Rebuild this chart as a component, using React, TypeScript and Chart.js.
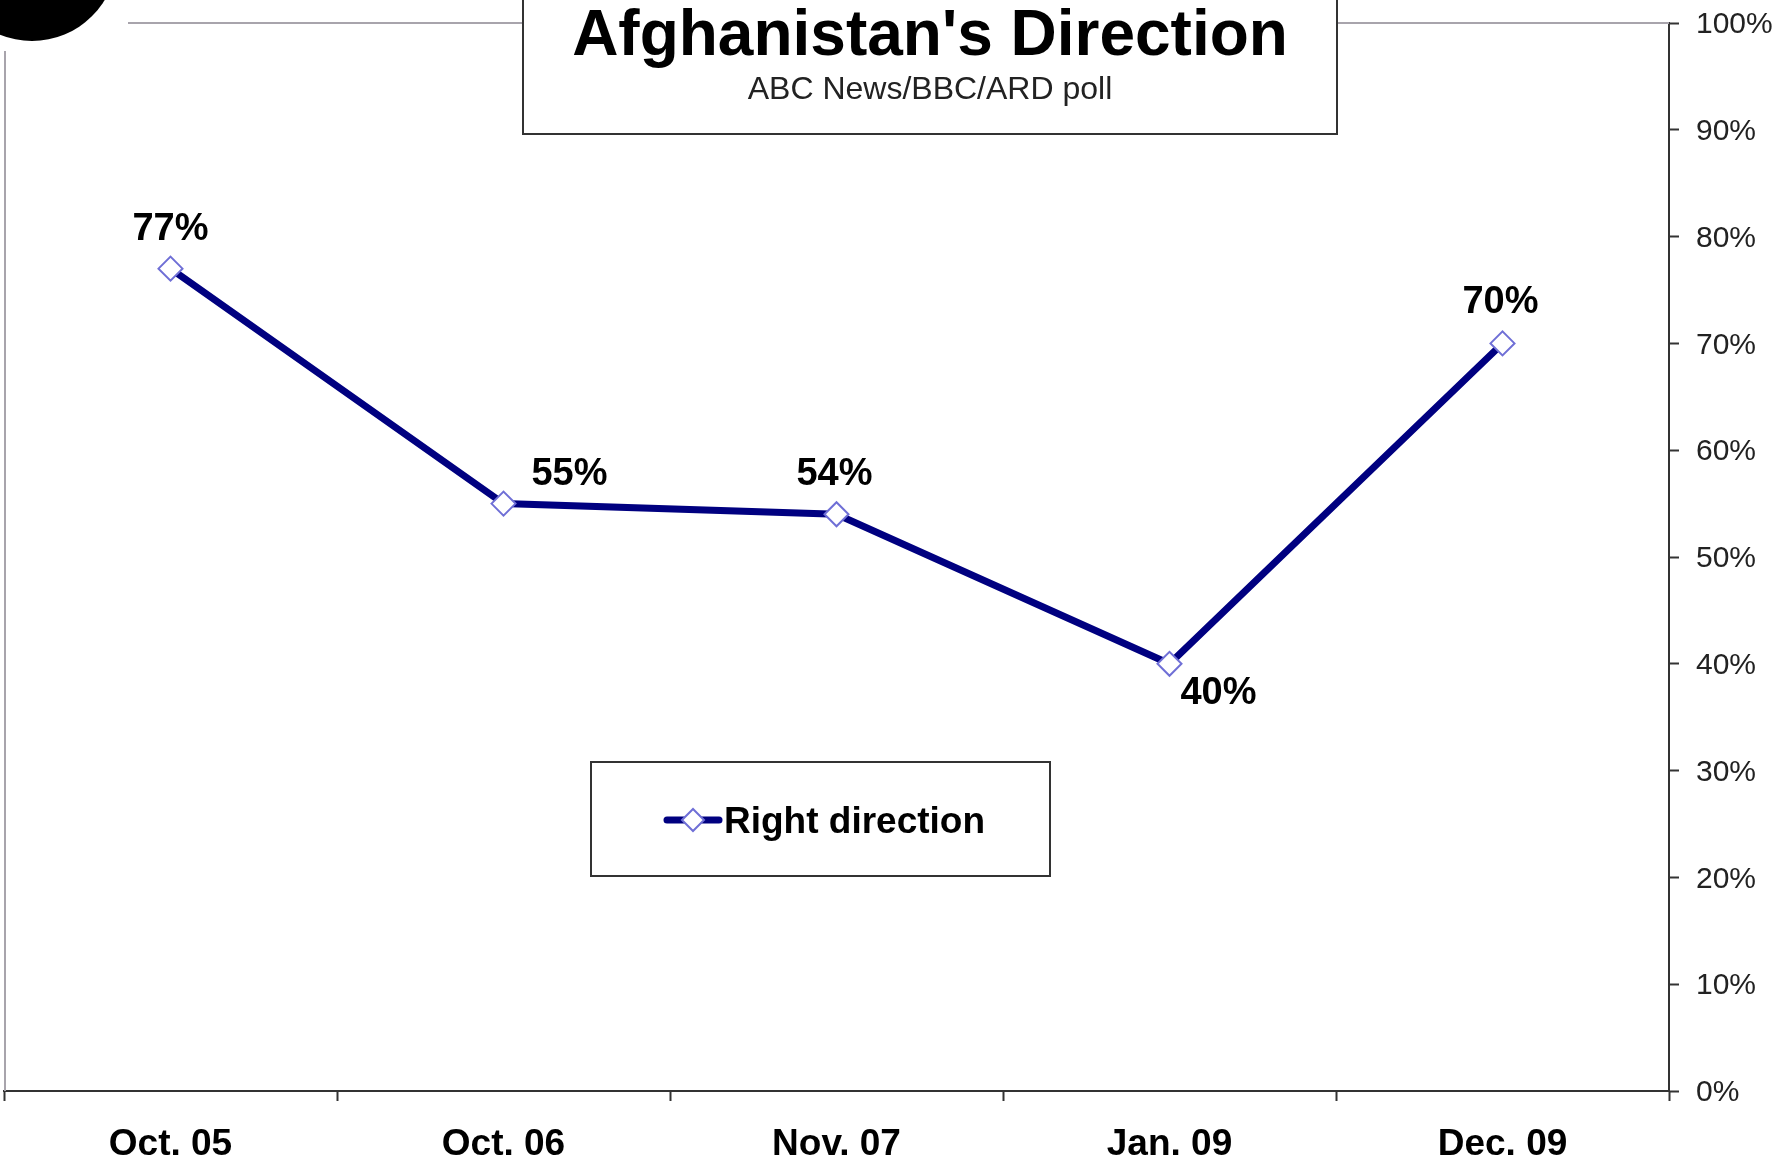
import React, { useEffect, useRef } from "react";
import { Chart, registerables } from "chart.js";

Chart.register(...registerables);

// ---- Data ----
const categories = ["Oct. 05", "Oct. 06", "Nov. 07", "Jan. 09", "Dec. 09"];
const rightDirection = [77, 55, 54, 40, 70];
const seriesName = "Right direction";
const titleText = "Afghanistan's Direction";
const subtitleText = "ABC News/BBC/ARD poll";
const yMin = 0;
const yMax = 100;
const yStep = 10;

// label offsets (dx, dy) from each point to the centre of its value label
const labelOffsets: [number, number][] = [
  [0, -43],
  [66, -33],
  [-2, -43],
  [49, 26],
  [-2, -44],
];

const FONT = "'Liberation Sans', Arial, Helvetica, sans-serif";
const NAVY = "#000080";
const MARKER_BORDER = "#6f6fd6";

const decorPlugin = {
  id: "decor",
  beforeDatasetsDraw(chart: any) {
    const { ctx, chartArea } = chart;
    ctx.save();
    ctx.strokeStyle = "#a8a4ac";
    ctx.lineWidth = 2;
    ctx.beginPath();
    ctx.moveTo(128, chartArea.top);
    ctx.lineTo(chartArea.right, chartArea.top);
    ctx.stroke();
    ctx.beginPath();
    ctx.moveTo(chartArea.left + 1, 51);
    ctx.lineTo(chartArea.left + 1, chartArea.bottom);
    ctx.stroke();
    ctx.restore();
  },
  afterDraw(chart: any) {
    const { ctx } = chart;
    const meta = chart.getDatasetMeta(0);
    ctx.save();

    // value labels
    ctx.fillStyle = "#000";
    ctx.font = `bold 38px ${FONT}`;
    ctx.textAlign = "center";
    ctx.textBaseline = "alphabetic";
    meta.data.forEach((pt: any, i: number) => {
      const [dx, dy] = labelOffsets[i];
      ctx.fillText(`${rightDirection[i]}%`, pt.x + dx, pt.y + dy + 14);
    });

    // legend box
    const lx = 591, ly = 762, lw = 459, lh = 114;
    ctx.fillStyle = "#fff";
    ctx.fillRect(lx, ly, lw, lh);
    ctx.strokeStyle = "#333";
    ctx.lineWidth = 2;
    ctx.strokeRect(lx, ly, lw, lh);
    const cy = 820;
    ctx.strokeStyle = NAVY;
    ctx.lineWidth = 7;
    ctx.lineCap = "round";
    ctx.beginPath();
    ctx.moveTo(667, cy);
    ctx.lineTo(719, cy);
    ctx.stroke();
    ctx.lineCap = "butt";
    const r = 11, mx = 693;
    ctx.beginPath();
    ctx.moveTo(mx - r, cy);
    ctx.lineTo(mx, cy - r);
    ctx.lineTo(mx + r, cy);
    ctx.lineTo(mx, cy + r);
    ctx.closePath();
    ctx.fillStyle = "#fff";
    ctx.fill();
    ctx.strokeStyle = MARKER_BORDER;
    ctx.lineWidth = 2;
    ctx.stroke();
    ctx.fillStyle = "#000";
    ctx.font = `bold 37px ${FONT}`;
    ctx.textAlign = "left";
    ctx.textBaseline = "alphabetic";
    ctx.fillText(seriesName, 724, cy + 13);

    // title box
    const tx = 523, tw = 814, tb = 134;
    ctx.fillStyle = "#fff";
    ctx.fillRect(tx, -10, tw, tb + 10);
    ctx.strokeStyle = "#333";
    ctx.lineWidth = 2;
    ctx.strokeRect(tx, -10, tw, tb + 10);
    ctx.fillStyle = "#000";
    ctx.textAlign = "center";
    ctx.font = `bold 64px ${FONT}`;
    ctx.fillText(titleText, tx + tw / 2, 55);
    ctx.fillStyle = "#222";
    ctx.font = `32px ${FONT}`;
    ctx.fillText(subtitleText, tx + tw / 2, 99);

    // black circle in the corner
    ctx.fillStyle = "#000";
    ctx.beginPath();
    ctx.arc(32, -44, 85, 0, Math.PI * 2);
    ctx.fill();

    ctx.restore();
  },
};

export default function App() {
  const canvasRef = useRef<HTMLCanvasElement | null>(null);

  useEffect(() => {
    const canvas = canvasRef.current;
    if (!canvas) return;
    const chart = new Chart(canvas, {
      type: "line",
      data: {
        labels: categories,
        datasets: [
          {
            label: seriesName,
            data: rightDirection,
            borderColor: NAVY,
            borderWidth: 7,
            tension: 0,
            pointStyle: "rectRot",
            pointRadius: 12,
            pointHoverRadius: 12,
            pointBackgroundColor: "#fff",
            pointBorderColor: MARKER_BORDER,
            pointBorderWidth: 2,
          },
        ],
      },
      options: {
        responsive: false,
        animation: false,
        devicePixelRatio: 1,
        layout: { autoPadding: false, padding: { left: 4, top: 23, right: 0, bottom: 0 } },
        plugins: {
          legend: { display: false },
          tooltip: { enabled: false },
          title: { display: false },
        },
        scales: {
          x: {
            type: "category",
            offset: true,
            grid: {
              offset: true,
              drawOnChartArea: false,
              drawTicks: true,
              tickLength: 10,
              tickWidth: 2,
              tickColor: "#333",
            },
            border: { display: true, color: "#333", width: 2 },
            ticks: {
              color: "#000",
              font: { family: FONT, size: 37, weight: "bold" },
              padding: 22,
              maxRotation: 0,
              autoSkip: false,
            },
            afterFit(scale: any) {
              scale.height = 76;
              scale.paddingLeft = 0;
              scale.paddingRight = 0;
            },
          },
          y: {
            position: "right",
            min: yMin,
            max: yMax,
            grid: {
              drawOnChartArea: false,
              drawTicks: true,
              tickLength: 10,
              tickWidth: 2,
              tickColor: "#333",
            },
            border: { display: true, color: "#333", width: 2 },
            ticks: {
              stepSize: yStep,
              color: "#222",
              font: { family: FONT, size: 30 },
              padding: 17,
              labelOffset: 2,
              callback: (v: any) => `${v}%`,
            },
            afterFit(scale: any) {
              scale.width = 118;
              scale.paddingTop = 0;
              scale.paddingBottom = 0;
            },
          },
        },
      },
      plugins: [decorPlugin],
    } as any);
    return () => chart.destroy();
  }, []);

  return (
    <canvas
      ref={canvasRef}
      width={1787}
      height={1167}
      style={{ position: "absolute", left: 0, top: 0, width: 1787, height: 1167, display: "block" }}
    />
  );
}
